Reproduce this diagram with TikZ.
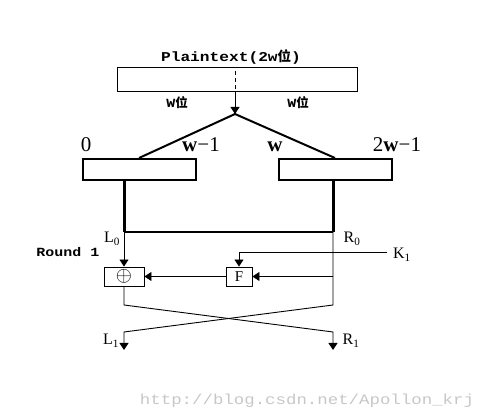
\documentclass[tikz,border=0pt]{standalone}
\usepackage{fontspec}
\setmainfont{Liberation Serif}
\newfontfamily\cjk{Noto Sans CJK SC}
\newfontfamily\codefont[FakeStretch=1.2]{Liberation Mono}
\usepackage{tikz}
\usetikzlibrary{arrows.meta, positioning, calc}

\begin{document}
\begin{tikzpicture}[x=1pt, y=-1pt,
    plainbox/.style={rectangle, draw=black, line width=1pt, minimum width=240pt, minimum height=24pt, inner sep=0pt},
    halfbox/.style={rectangle, draw=black, line width=2pt, minimum width=113pt, minimum height=21pt, inner sep=0pt},
    opbox/.style={rectangle, draw=black, line width=0.9pt, minimum height=19pt, inner sep=0pt, font=\fontsize{15}{17}\selectfont},
    bitlabel/.style={anchor=base, font=\fontsize{21}{23}\selectfont},
    varlabel/.style={font=\fontsize{16}{18}\selectfont},
    codelabel/.style={font=\codefont\bfseries\fontsize{12.5}{14}\selectfont},
    arrow/.style={draw=black, line width=0.9pt, -{Triangle[width=9pt, length=7pt]}}]

    \useasboundingbox (0, 0) rectangle (477, 419);

    % Plaintext block
    \node [plainbox] at (237, 80) (plain) {};
    \node [codelabel, font=\codefont\bfseries\fontsize{13.5}{15}\selectfont] at (231, 57) (ptext) {Plaintext(2w{\cjk 位})};
    \node [codelabel] at (177, 103) (wleft) {W{\cjk 位}};
    \node [codelabel] at (298, 103) (wright) {W{\cjk 位}};
    \coordinate (split) at (235, 114);

    % Halves
    \node [halfbox] at (139, 169.5) (lbox) {};
    \node [halfbox] at (335, 169.5) (rbox) {};
    \node [bitlabel] at (86, 152) (b0) {0};
    \node [bitlabel] at (201, 152) (bw1) {{\bfseries w}−1};
    \node [bitlabel] at (275, 152) (bw) {\bfseries w};
    \node [bitlabel] at (397, 152) (b2w1) {2{\bfseries w}−1};

    % Round 1
    \coordinate (l0) at (124, 232);
    \coordinate (r0) at (333, 232);
    \node [varlabel] at (112, 239) (l0text) {L\textsubscript{0}};
    \node [varlabel] at (352, 239) (r0text) {R\textsubscript{0}};
    \node [codelabel] at (68, 252) (round) {Round 1};
    \node [opbox, minimum width=40pt, font=\fontsize{20}{20}\selectfont] at (124, 276.5) (xor) {$\oplus$};
    \node [opbox, minimum width=26pt] at (239, 276.5) (f) {F};
    \coordinate (k1) at (387, 252);
    \node [varlabel] at (402, 255) (k1text) {K\textsubscript{1}};

    % Swap
    \coordinate (lc) at (124, 305);
    \coordinate (rc) at (333, 305);
    \coordinate (lx) at (124, 332);
    \coordinate (rx) at (333, 332);
    \coordinate (l1) at (124, 350);
    \coordinate (r1) at (333, 350);
    \node [varlabel] at (111, 341) (l1text) {L\textsubscript{1}};
    \node [varlabel] at (351, 341) (r1text) {R\textsubscript{1}};

    % Connectors
    \draw [dashed, line width=0.9pt, dash pattern=on 4pt off 3pt] ($(plain.north -| split)+(0,4)$) -- (plain.south -| split);
    \draw [arrow] (plain.south -| split) -- (split);
    \draw [line width=2pt] (lbox.north) -- (split) -- (rbox.north);
    \draw [line width=3pt] (lbox.south -| l0) -- (l0);
    \draw [line width=3pt] (rbox.south -| r0) -- (r0);
    \draw [line width=1.5pt] (l0) -- (r0);
    \draw [arrow] (l0) -- (xor);
    \draw [arrow] (k1) -| (f);
    \draw [arrow] (r0 |- f.east) -- (f.east);
    \draw [arrow] (f) -- (xor);
    \draw [arrow] (xor) -- (lc) -- (rx) -- (r1);
    \draw [arrow] (r0) -- (rc) -- (lx) -- (l1);

    % Watermark
    \node [font=\codefont\fontsize{14.5}{16}\selectfont, text=black!22] at (307, 401) (mark) {http://blog.csdn.net/Apollon\_krj};

\end{tikzpicture}
\end{document}
